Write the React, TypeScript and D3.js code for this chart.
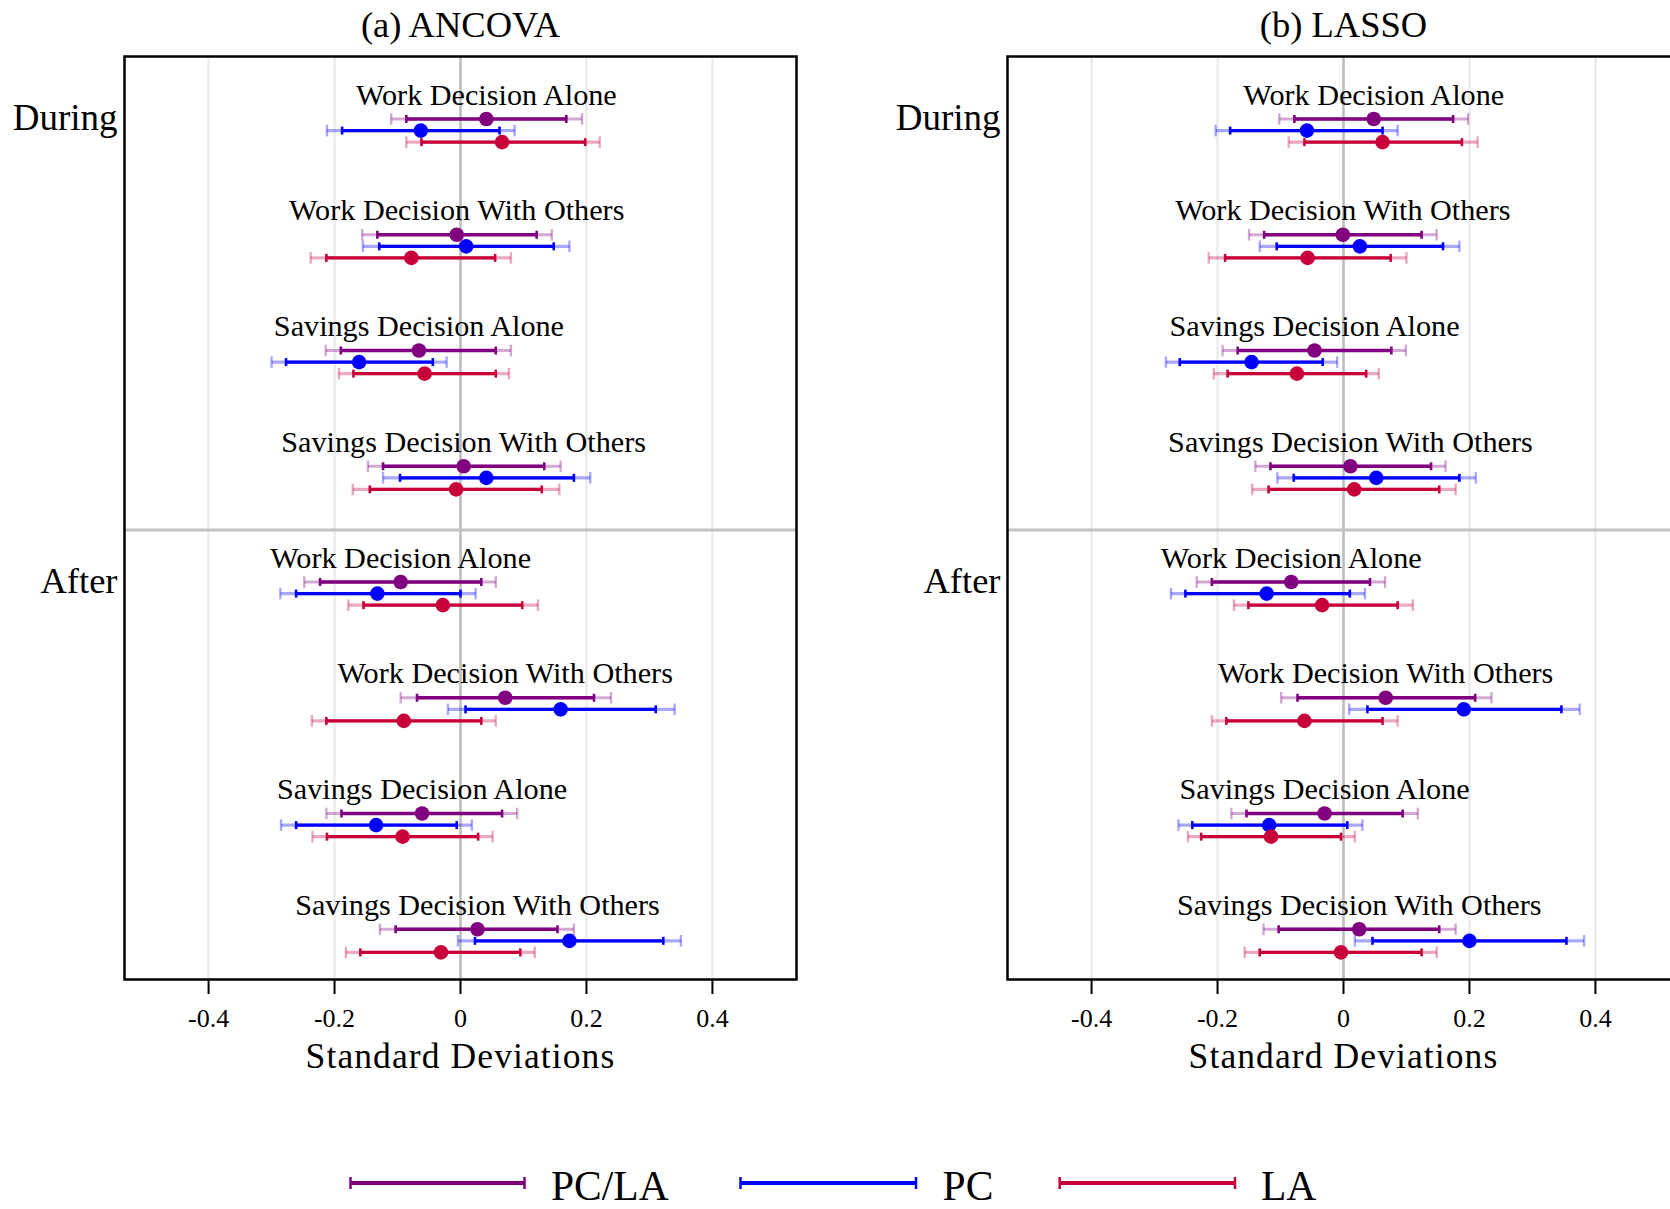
import React from "react";
import * as d3 from "d3";

// ---------- data ----------
const categories = [
  "Work Decision Alone",
  "Work Decision With Others",
  "Savings Decision Alone",
  "Savings Decision With Others",
];
const periods = ["During", "After"];
const seriesNames = ["PC/LA", "PC", "LA"];
const seriesColors = ["#800080", "#0000ff", "#c8003a"];
const panelTitles = ["(a) ANCOVA", "(b) LASSO"];
const xTicks = [-0.4, -0.2, 0, 0.2, 0.4];
const xTickLabels = ["-0.4", "-0.2", "0", "0.2", "0.4"];
const xTitle = "Standard Deviations";

// each row: [estimate, innerLow, innerHigh, outerLow, outerHigh]
// order: During (4 categories), After (4 categories)
const ancovaPCLA = [
  [0.041, -0.086, 0.168, -0.110, 0.193],
  [-0.006, -0.132, 0.121, -0.156, 0.145],
  [-0.066, -0.190, 0.056, -0.214, 0.080],
  [0.005, -0.123, 0.133, -0.147, 0.159],
  [-0.095, -0.223, 0.033, -0.248, 0.056],
  [0.071, -0.069, 0.212, -0.095, 0.239],
  [-0.061, -0.189, 0.066, -0.213, 0.090],
  [0.027, -0.103, 0.154, -0.128, 0.180],
];
const ancovaPC = [
  [-0.063, -0.188, 0.062, -0.212, 0.086],
  [0.009, -0.129, 0.148, -0.155, 0.173],
  [-0.161, -0.277, -0.044, -0.300, -0.022],
  [0.041, -0.096, 0.180, -0.123, 0.206],
  [-0.132, -0.261, 0.000, -0.286, 0.024],
  [0.159, 0.008, 0.310, -0.020, 0.340],
  [-0.134, -0.261, -0.006, -0.285, 0.018],
  [0.173, 0.023, 0.322, -0.004, 0.350],
];
const ancovaLA = [
  [0.066, -0.062, 0.198, -0.086, 0.221],
  [-0.078, -0.213, 0.055, -0.238, 0.080],
  [-0.057, -0.170, 0.056, -0.193, 0.077],
  [-0.007, -0.144, 0.129, -0.171, 0.157],
  [-0.028, -0.154, 0.098, -0.178, 0.123],
  [-0.090, -0.213, 0.033, -0.236, 0.056],
  [-0.092, -0.212, 0.028, -0.235, 0.051],
  [-0.031, -0.159, 0.095, -0.182, 0.118],
];
const lassoPCLA = [
  [0.048, -0.078, 0.174, -0.102, 0.198],
  [-0.001, -0.126, 0.124, -0.150, 0.148],
  [-0.046, -0.168, 0.076, -0.192, 0.099],
  [0.011, -0.116, 0.139, -0.140, 0.162],
  [-0.083, -0.209, 0.042, -0.233, 0.066],
  [0.067, -0.073, 0.209, -0.099, 0.235],
  [-0.030, -0.154, 0.094, -0.178, 0.118],
  [0.025, -0.103, 0.152, -0.127, 0.178],
];
const lassoPC = [
  [-0.058, -0.180, 0.062, -0.203, 0.086],
  [0.026, -0.106, 0.158, -0.133, 0.184],
  [-0.146, -0.260, -0.033, -0.282, -0.010],
  [0.052, -0.079, 0.184, -0.105, 0.210],
  [-0.122, -0.251, 0.010, -0.274, 0.034],
  [0.191, 0.038, 0.346, 0.009, 0.375],
  [-0.118, -0.240, 0.006, -0.262, 0.030],
  [0.200, 0.046, 0.354, 0.018, 0.382],
];
const lassoLA = [
  [0.062, -0.062, 0.188, -0.087, 0.213],
  [-0.057, -0.188, 0.075, -0.214, 0.100],
  [-0.074, -0.184, 0.036, -0.206, 0.056],
  [0.017, -0.119, 0.152, -0.145, 0.178],
  [-0.034, -0.151, 0.086, -0.174, 0.110],
  [-0.062, -0.186, 0.062, -0.209, 0.086],
  [-0.115, -0.226, -0.004, -0.247, 0.018],
  [-0.004, -0.133, 0.124, -0.157, 0.148],
];
const panelData = [
  [ancovaPCLA, ancovaPC, ancovaLA],
  [lassoPCLA, lassoPC, lassoLA],
];

// ---------- layout ----------
const W = 1670;
const H = 1209;
const FONT = "'Liberation Serif', 'Times New Roman', serif";
const xDomain = [-0.5335, 0.5335];
const panelRanges = [
  [124.5, 796.5],
  [1007.5, 1679.5],
];
const frameTop = 56.5;
const frameBottom = 979.5;
const y = d3.scaleLinear().domain([-0.64, 7.334]).range([frameTop, frameBottom]);
const seriesOffset = [-0.1, 0, 0.1];
const dividerSlot = 3.45;

function Panel({ idx }: { idx: number }) {
  const x = d3.scaleLinear().domain(xDomain).range(panelRanges[idx]);
  const [x0, x1] = panelRanges[idx];
  const data = panelData[idx];
  const innerCap = 4;
  const outerCap = 5.8;
  return (
    <g>
      {/* title */}
      <text x={x(0)} y={37} textAnchor="middle" fontFamily={FONT} fontSize={36.5}>
        {panelTitles[idx]}
      </text>
      {/* grid */}
      {xTicks.map((t) => (
        <line
          key={"g" + t}
          x1={x(t)}
          x2={x(t)}
          y1={frameTop}
          y2={frameBottom}
          stroke={t === 0 ? "#bdbdbd" : "#ebebeb"}
          strokeWidth={t === 0 ? 2.6 : 2.4}
        />
      ))}
      {/* divider */}
      <line x1={x0} x2={x1} y1={y(dividerSlot)} y2={y(dividerSlot)} stroke="#c2c2c2" strokeWidth={3} />
      {/* period labels */}
      {periods.map((p, pi) => (
        <text
          key={p}
          x={x0 - 7}
          y={y(pi * 4) - 1}
          textAnchor="end"
          fontFamily={FONT}
          fontSize={pi === 0 ? 37 : 36.5}
        >
          {p}
        </text>
      ))}
      {/* category labels */}
      {data[0].map((row, i) => (
        <text
          key={"lab" + i}
          x={x(row[0])}
          y={y(i + seriesOffset[0]) - 14.5}
          textAnchor="middle"
          fontFamily={FONT}
          fontSize={30.2}
        >
          {categories[i % 4]}
        </text>
      ))}
      {/* outer intervals */}
      {data.map((series, si) =>
        series.map((row, i) => {
          const yy = y(i + seriesOffset[si]);
          return (
            <g key={"o" + si + "-" + i} stroke={seriesColors[si]} strokeOpacity={0.34} strokeWidth={3.2}>
              <line x1={x(row[3])} x2={x(row[4])} y1={yy} y2={yy} />
              <line x1={x(row[3])} x2={x(row[3])} y1={yy - outerCap} y2={yy + outerCap} strokeWidth={2.4} />
              <line x1={x(row[4])} x2={x(row[4])} y1={yy - outerCap} y2={yy + outerCap} strokeWidth={2.4} />
            </g>
          );
        })
      )}
      {/* inner intervals + points */}
      {data.map((series, si) =>
        series.map((row, i) => {
          const yy = y(i + seriesOffset[si]);
          return (
            <g key={"i" + si + "-" + i}>
              <line x1={x(row[1])} x2={x(row[2])} y1={yy} y2={yy} stroke={seriesColors[si]} strokeWidth={3.3} />
              <line x1={x(row[1])} x2={x(row[1])} y1={yy - innerCap} y2={yy + innerCap} stroke={seriesColors[si]} strokeWidth={2.6} />
              <line x1={x(row[2])} x2={x(row[2])} y1={yy - innerCap} y2={yy + innerCap} stroke={seriesColors[si]} strokeWidth={2.6} />
              <circle cx={x(row[0])} cy={yy} r={7.3} fill={seriesColors[si]} />
            </g>
          );
        })
      )}
      {/* frame */}
      <rect x={x0} y={frameTop} width={x1 - x0} height={frameBottom - frameTop} fill="none" stroke="#000" strokeWidth={2.5} />
      {/* ticks */}
      {xTicks.map((t, ti) => (
        <g key={"t" + t}>
          <line x1={x(t)} x2={x(t)} y1={frameBottom} y2={frameBottom + 14.5} stroke="#000" strokeWidth={2} />
          <text x={x(t)} y={1027} textAnchor="middle" fontFamily={FONT} fontSize={26}>
            {xTickLabels[ti]}
          </text>
        </g>
      ))}
      <text x={x(0)} y={1068} textAnchor="middle" fontFamily={FONT} fontSize={35.5} letterSpacing={1.1}>
        {xTitle}
      </text>
    </g>
  );
}

const legendLines = [
  [350.5, 524.5],
  [740.5, 916],
  [1059.7, 1235],
];
const legendTextX = [551, 942.6, 1261];

export default function App() {
  return (
    <svg
      width={W}
      height={H}
      style={{ position: "absolute", left: 0, top: 0, display: "block", background: "#fff" }}
    >
      <rect x={0} y={0} width={W} height={H} fill="#fff" />
      <Panel idx={0} />
      <Panel idx={1} />
      {seriesNames.map((s, i) => (
        <g key={s}>
          <line x1={legendLines[i][0]} x2={legendLines[i][1]} y1={1183} y2={1183} stroke={seriesColors[i]} strokeWidth={4} />
          <line x1={legendLines[i][0]} x2={legendLines[i][0]} y1={1177} y2={1189} stroke={seriesColors[i]} strokeWidth={2.5} />
          <line x1={legendLines[i][1]} x2={legendLines[i][1]} y1={1177} y2={1189} stroke={seriesColors[i]} strokeWidth={2.5} />
          <text x={legendTextX[i]} y={1200} fontFamily={FONT} fontSize={41.5}>
            {s}
          </text>
        </g>
      ))}
    </svg>
  );
}
